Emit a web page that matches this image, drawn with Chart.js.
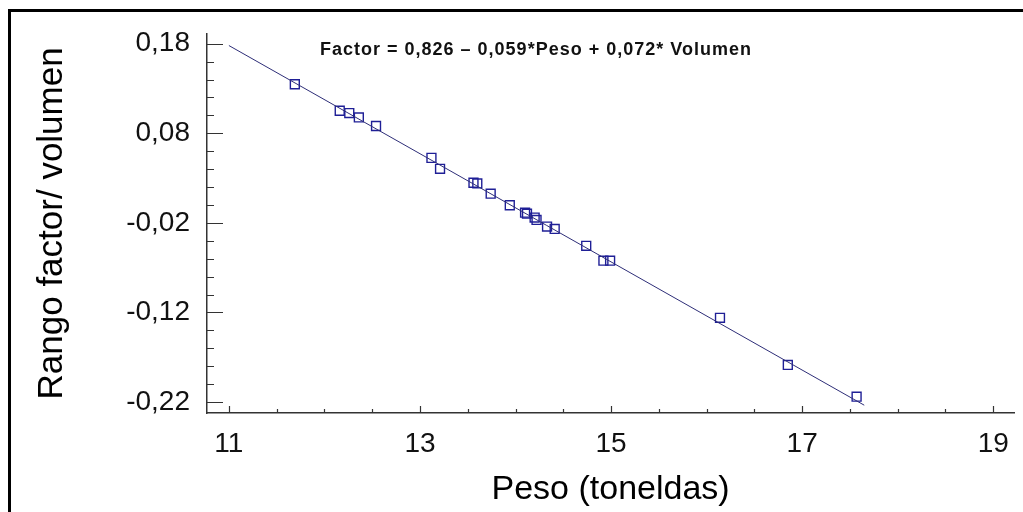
<!DOCTYPE html>
<html>
<head>
<meta charset="utf-8">
<script src="https://cdn.jsdelivr.net/npm/chart.js@4"></script>
<style>
    html, body { margin: 0; padding: 0; background: #fff; overflow: hidden; }
    #fitChart { display: block; }
</style>
</head>
<body>
<canvas id="fitChart" width="1023" height="512"></canvas>
<script>
// observed points (Peso, Rango factor/volumen)
var peso = [11.69, 12.16, 12.26, 12.36, 12.54, 13.12, 13.21, 13.56, 13.60, 13.74, 13.94, 14.10,
            14.12, 14.20, 14.22, 14.33, 14.41, 14.74, 14.92, 14.99, 16.14, 16.85, 17.57];
var rango = [0.1348, 0.1052, 0.1026, 0.0978, 0.0882, 0.0526, 0.0404, 0.0248, 0.0241, 0.0126, -0.0003, -0.0086,
             -0.0097, -0.0141, -0.0167, -0.0241, -0.0267, -0.0456, -0.0622, -0.0622, -0.1260, -0.1786, -0.2140];

// fitted line end points
var fitX = [11, 17.65];
var fitY = [0.178, -0.2235];

// axis ticks
var xMajorTicks = [11, 13, 15, 17, 19];
var xMinorPerMajor = 3;
var yMajorTicks = [-0.22, -0.12, -0.02, 0.08, 0.18];
var yMinorPerMajor = 4;

var equationText = 'Factor = 0,826 \u2013 0,059*Peso + 0,072* Volumen';

function tickList(majors, nMinor, fmt) {
    var list = [];
    var step = (majors[1] - majors[0]) / (nMinor + 1);
    majors.forEach(function(m, i) {
        list.push({ value: m, lbl: fmt(m), isMajor: true });
        if (i < majors.length - 1) {
            for (var k = 1; k <= nMinor; k++) {
                list.push({ value: m + k * step, lbl: '', isMajor: false });
            }
        }
    });
    return list;
}

// white page + the black frame (top and left edges only, the rest is cut off)
var pageFrame = {
    id: 'pageFrame',
    beforeDraw: function(chart) {
        var ctx = chart.ctx;
        ctx.save();
        ctx.fillStyle = '#fff';
        ctx.fillRect(0, 0, chart.width, chart.height);
        ctx.fillStyle = '#000';
        ctx.fillRect(8, 9, chart.width - 8, 3);
        ctx.fillRect(8, 9, 3, chart.height - 9);
        ctx.restore();
    }
};

var innerTicks = {
    id: 'innerTicks',
    afterDatasetsDraw: function(chart) {
        var ctx = chart.ctx;
        var area = chart.chartArea;
        var xs = chart.scales.x, ys = chart.scales.y;
        ctx.save();
        ctx.strokeStyle = '#333';
        ctx.lineWidth = 1.2;
        ctx.beginPath();
        ys.ticks.forEach(function(t) {
            var py = Math.round(ys.getPixelForValue(t.value)) + 0.5;
            ctx.moveTo(area.left, py);
            ctx.lineTo(area.left + (t.isMajor ? 16 : 7), py);
        });
        xs.ticks.forEach(function(t) {
            var px = Math.round(xs.getPixelForValue(t.value)) + 0.5;
            ctx.moveTo(px, area.bottom);
            ctx.lineTo(px, area.bottom - (t.isMajor ? 7 : 4));
        });
        ctx.stroke();

        // equation note
        ctx.fillStyle = '#111';
        ctx.font = 'bold 18px "Liberation Sans", Arial, sans-serif';
        ctx.letterSpacing = '1px';
        ctx.textBaseline = 'middle';
        ctx.textAlign = 'left';
        ctx.fillText(equationText, 320, 50);
        ctx.restore();
    }
};

var fitCtx = document.getElementById('fitChart').getContext('2d');
var fitChart = new Chart(fitCtx, {
    type: 'scatter',
    data: {
        datasets: [{
            type: 'line',
            data: fitX.map(function(x, i) { return { x: x, y: fitY[i] }; }),
            borderColor: '#2e2e78',
            borderWidth: 1,
            pointRadius: 0,
            fill: false
        }, {
            data: peso.map(function(x, i) { return { x: x, y: rango[i] }; }),
            pointStyle: 'rect',
            pointRadius: 6.3,
            borderColor: '#1f1f96',
            borderWidth: 1.4,
            backgroundColor: 'rgba(0,0,0,0)'
        }]
    },
    options: {
        responsive: false,
        animation: false,
        layout: { padding: { left: 0, top: 32, right: 5, bottom: 0 } },
        plugins: {
            legend: { display: false },
            tooltip: { enabled: false }
        },
        scales: {
            x: {
                type: 'linear',
                min: 10.7708,
                max: 19.219,
                afterFit: function(s) { s.height = 99; },
                afterBuildTicks: function(s) {
                    s.ticks = tickList(xMajorTicks, xMinorPerMajor, function(v) { return String(v); });
                },
                grid: { display: false, drawTicks: false },
                border: { display: true, color: '#333', width: 1.5 },
                ticks: {
                    autoSkip: false,
                    maxRotation: 0,
                    padding: 14,
                    color: '#111',
                    font: { family: '"Liberation Sans", Arial, sans-serif', size: 28 },
                    callback: function(v, i, ticks) { return ticks[i].lbl; }
                },
                title: {
                    display: true,
                    text: 'Peso (toneldas)',
                    color: '#000',
                    padding: { top: 0, bottom: 2 },
                    font: { family: '"Liberation Sans", Arial, sans-serif', size: 34 }
                }
            },
            y: {
                type: 'linear',
                min: -0.23222,
                max: 0.19111,
                afterFit: function(s) { s.width = 207; },
                afterBuildTicks: function(s) {
                    s.ticks = tickList(yMajorTicks, yMinorPerMajor, function(v) {
                        return v.toFixed(2).replace('.', ',');
                    });
                },
                grid: { display: false, drawTicks: false },
                border: { display: true, color: '#333', width: 1.5 },
                ticks: {
                    autoSkip: false,
                    padding: 17,
                    color: '#111',
                    font: { family: '"Liberation Sans", Arial, sans-serif', size: 28 },
                    callback: function(v, i, ticks) { return ticks[i].lbl; }
                },
                title: {
                    display: true,
                    text: 'Rango factor/ volumen',
                    color: '#000',
                    padding: { top: 31, bottom: 0 },
                    font: { family: '"Liberation Sans", Arial, sans-serif', size: 35 }
                }
            }
        }
    },
    plugins: [pageFrame, innerTicks]
});
</script>
</body>
</html>
